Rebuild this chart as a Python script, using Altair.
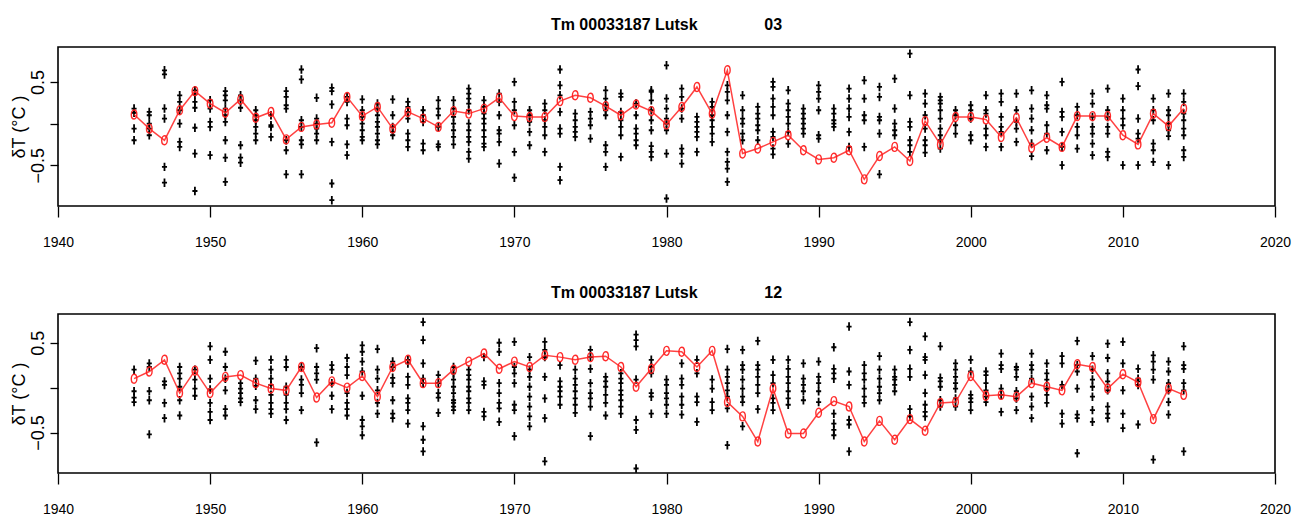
import altair as alt
import pandas as pd

years = list(range(1945, 2015))

mean_03 = [0.11, -0.06, -0.20, 0.16, 0.39, 0.24, 0.13, 0.29, 0.07, 0.14,
           -0.19, -0.04, -0.01, 0.01, 0.32, 0.09, 0.20, -0.06, 0.14, 0.06,
           -0.04, 0.15, 0.12, 0.18, 0.31, 0.09, 0.08, 0.08, 0.27, 0.34,
           0.31, 0.21, 0.10, 0.23, 0.15, -0.01, 0.20, 0.44, 0.12, 0.64,
           -0.36, -0.30, -0.22, -0.14, -0.32, -0.43, -0.41, -0.32, -0.67, -0.39,
           -0.28, -0.45, 0.03, -0.25, 0.08, 0.08, 0.05, -0.16, 0.07, -0.29,
           -0.17, -0.28, 0.09, 0.09, 0.09, -0.14, -0.25, 0.12, -0.03, 0.18]

mean_12 = [0.10, 0.18, 0.31, -0.06, 0.19, -0.06, 0.12, 0.14, 0.05, -0.01,
           -0.03, 0.23, -0.11, 0.07, 0.00, 0.13, -0.10, 0.23, 0.31, 0.05,
           0.05, 0.20, 0.29, 0.38, 0.21, 0.29, 0.23, 0.36, 0.34, 0.31,
           0.34, 0.35, 0.23, 0.01, 0.21, 0.41, 0.40, 0.23, 0.41, -0.16,
           -0.32, -0.60, -0.01, -0.51, -0.51, -0.28, -0.15, -0.21, -0.60, -0.37,
           -0.58, -0.35, -0.48, -0.17, -0.16, 0.13, -0.09, -0.08, -0.10, 0.05,
           0.01, -0.03, 0.26, 0.23, -0.01, 0.15, 0.06, -0.35, -0.01, -0.08]

cross_03 = [
    [0.18, 0.13, -0.06, -0.20],
    [0.14, 0.10, 0.0, -0.06, -0.14],
    [0.64, 0.59, 0.18, 0.06, -0.52, -0.71],
    [0.34, 0.26, 0.16, 0.0, -0.22, -0.28],
    [0.40, 0.35, 0.26, 0.19, -0.05, -0.36, -0.81],
    [0.28, 0.18, 0.02, -0.04, -0.38],
    [0.39, 0.34, 0.28, 0.18, 0.10, 0.02, -0.20, -0.41, -0.70],
    [0.34, 0.28, 0.19, -0.26, -0.41, -0.47],
    [0.16, 0.10, 0.04, -0.04, -0.12, -0.20],
    [0.10, -0.02, -0.04, -0.16],
    [0.39, 0.32, 0.22, 0.18, -0.20, -0.32, -0.61],
    [0.65, 0.53, 0.04, -0.04, -0.20, -0.25, -0.61],
    [0.31, 0.06, 0.0, -0.06, -0.12, -0.20],
    [0.43, 0.39, 0.23, -0.22, -0.72, -0.92],
    [0.32, 0.26, 0.06, -0.02, -0.25, -0.38],
    [0.29, 0.16, 0.08, 0.0, -0.08, -0.16, -0.20],
    [0.24, 0.18, 0.10, 0.02, -0.04, -0.12, -0.20, -0.25],
    [0.29, 0.10, -0.04, -0.10, -0.14],
    [0.26, 0.20, 0.14, 0.06, -0.12, -0.20, -0.28],
    [0.16, 0.10, 0.02, -0.24, -0.32],
    [0.28, 0.18, 0.10, -0.04, -0.25, -0.28],
    [0.28, 0.18, 0.08, 0.0, -0.08, -0.16, -0.25],
    [0.42, 0.36, 0.30, 0.24, 0.16, 0.0, -0.08, -0.16, -0.22, -0.34, -0.42],
    [0.28, 0.20, 0.12, 0.06, 0.0, -0.08, -0.16, -0.24, -0.28],
    [0.36, 0.26, 0.10, -0.08, -0.12, -0.22, -0.48],
    [0.50, 0.26, 0.16, -0.02, -0.34, -0.65],
    [0.16, 0.10, 0.02, -0.10, -0.26],
    [0.24, 0.16, 0.04, -0.04, -0.14, -0.34],
    [0.65, 0.46, 0.34, 0.14, -0.06, -0.12, -0.52, -0.68],
    [0.12, 0.04, -0.04, -0.10, -0.16],
    [0.14, 0.06, -0.02, -0.18],
    [0.40, 0.30, 0.22, 0.16, 0.10, -0.26, -0.34, -0.52],
    [0.36, 0.32, 0.14, 0.04, -0.04, -0.14, -0.40],
    [0.24, 0.10, -0.06, -0.12, -0.20, -0.26],
    [0.40, 0.38, 0.28, 0.16, 0.04, -0.08, -0.27, -0.34, -0.40],
    [0.70, 0.30, 0.18, 0.06, 0.0, -0.08, -0.36, -0.90],
    [0.42, 0.32, 0.18, 0.06, -0.30, -0.36, -0.48],
    [0.08, 0.02, -0.04, -0.10, -0.16, -0.34],
    [0.26, 0.20, 0.10, 0.04, -0.04, -0.12, -0.22],
    [0.46, 0.38, 0.28, 0.10, -0.10, -0.34, -0.46, -0.54, -0.70],
    [0.34, 0.16, 0.06, 0.0, -0.12, -0.20],
    [0.20, 0.12, 0.06, -0.02, -0.08, -0.20],
    [0.50, 0.44, 0.30, 0.20, 0.10, -0.10, -0.16, -0.30, -0.37],
    [0.40, 0.24, 0.16, 0.08, 0.0, -0.10, -0.24],
    [0.18, 0.12, 0.06, 0.0, -0.06, -0.12],
    [0.46, 0.38, 0.30, 0.16, -0.14, -0.18],
    [0.18, 0.12, 0.04, 0.0, -0.04],
    [0.42, 0.30, 0.18, 0.08, -0.10, -0.28],
    [0.52, 0.30, 0.10, 0.04, -0.28],
    [0.44, 0.32, 0.08, 0.04, -0.12, -0.61],
    [0.54, 0.18, 0.0, -0.08, -0.14],
    [0.84, 0.34, 0.02, -0.04, -0.20, -0.26, -0.34],
    [0.36, 0.24, 0.10, -0.06, -0.20, -0.26, -0.35],
    [0.32, 0.28, 0.24, 0.16, 0.06, -0.06, -0.14, -0.20, -0.30],
    [0.16, 0.10, -0.02, -0.12],
    [0.22, 0.16, 0.06, -0.14, -0.20],
    [0.34, 0.16, 0.12, -0.06, -0.14, -0.28],
    [0.36, 0.26, 0.08, -0.04, -0.10, -0.28],
    [0.36, 0.16, 0.02, -0.06, -0.22],
    [0.40, 0.18, 0.06, -0.08, -0.24, -0.39],
    [0.34, 0.22, 0.18, -0.02, -0.12, -0.32],
    [0.50, 0.14, 0.08, -0.10, -0.28, -0.50],
    [0.20, 0.10, -0.04, -0.14, -0.30],
    [0.36, 0.24, 0.08, -0.04, -0.12, -0.24, -0.38],
    [0.42, 0.16, 0.08, -0.04, -0.12, -0.34, -0.40],
    [0.30, 0.16, 0.06, -0.02, -0.50],
    [0.65, 0.45, 0.06, -0.12, -0.18, -0.50],
    [0.30, 0.16, 0.04, -0.24, -0.32, -0.46],
    [0.36, 0.16, 0.10, 0.0, -0.08, -0.15, -0.50],
    [0.36, 0.26, 0.12, 0.04, -0.06, -0.14, -0.32, -0.40],
]

cross_12 = [
    [0.20, -0.04, -0.11, -0.16],
    [0.27, 0.23, -0.04, -0.14, -0.52],
    [0.07, 0.03, -0.17, -0.34],
    [0.23, 0.16, 0.10, 0.01, -0.14, -0.31],
    [0.20, 0.09, -0.01, -0.09],
    [0.46, 0.31, 0.10, -0.02, -0.17, -0.27, -0.36],
    [0.40, 0.23, 0.10, -0.03, -0.24, -0.31],
    [0.05, -0.01, -0.06, -0.12, -0.16],
    [0.30, 0.10, 0.02, -0.14, -0.24],
    [0.31, 0.20, 0.10, 0.03, -0.08, -0.17, -0.24, -0.29],
    [0.31, 0.23, 0.01, -0.08, -0.17, -0.24, -0.36],
    [0.23, 0.09, 0.03, -0.06, -0.25],
    [0.44, 0.23, 0.16, 0.09, -0.61],
    [0.25, 0.20, 0.05, -0.09, -0.24],
    [0.33, 0.23, 0.14, -0.06, -0.17, -0.24, -0.31],
    [0.47, 0.40, 0.29, 0.18, -0.09, -0.36, -0.43, -0.53],
    [0.43, 0.20, 0.10, -0.03, -0.17, -0.29],
    [0.29, 0.23, 0.11, 0.05, -0.14, -0.29, -0.34],
    [0.31, 0.27, 0.12, 0.03, -0.12, -0.17, -0.25, -0.40],
    [0.73, 0.53, 0.27, 0.10, 0.05, -0.43, -0.58, -0.71],
    [0.14, 0.05, -0.06, -0.11, -0.28],
    [0.23, 0.16, 0.09, 0.01, -0.06, -0.14, -0.17, -0.21, -0.25],
    [0.20, 0.14, 0.09, 0.01, -0.04, -0.12, -0.17, -0.25],
    [0.34, 0.07, 0.03, -0.27, -0.32],
    [0.50, 0.40, 0.05, -0.06, -0.17, -0.23, -0.38],
    [0.51, 0.23, 0.16, 0.05, -0.19, -0.25, -0.54],
    [0.34, 0.20, 0.12, 0.01, -0.10, -0.21, -0.32, -0.43],
    [0.51, 0.42, 0.34, 0.12, -0.12, -0.34, -0.82],
    [0.25, 0.07, 0.01, -0.04, -0.10, -0.19],
    [0.20, 0.10, 0.03, -0.04, -0.12, -0.19, -0.28],
    [0.42, 0.34, 0.21, 0.05, -0.06, -0.12, -0.21, -0.54],
    [0.12, 0.07, 0.01, -0.08, -0.17, -0.31],
    [0.16, 0.10, 0.05, -0.03, -0.08, -0.14, -0.21, -0.29],
    [0.59, 0.53, 0.46, 0.09, -0.36, -0.47, -0.90],
    [0.31, 0.23, 0.16, -0.06, -0.10, -0.29],
    [0.09, 0.03, -0.06, -0.12, -0.19, -0.29],
    [0.27, 0.10, 0.03, -0.10, -0.19, -0.30],
    [0.31, 0.16, -0.10, -0.16, -0.38],
    [0.09, -0.01, -0.16, -0.25],
    [0.43, 0.20, 0.12, 0.05, -0.03, -0.10, -0.23, -0.64],
    [0.42, 0.25, 0.20, 0.09, -0.01, -0.10, -0.16, -0.43],
    [0.52, 0.25, 0.20, 0.12, 0.03, -0.06, -0.24],
    [0.31, 0.14, 0.05, -0.12, -0.17, -0.25],
    [0.31, 0.21, 0.12, 0.05, -0.04, -0.12, -0.19],
    [0.27, 0.10, 0.03, -0.04, -0.14],
    [0.29, 0.12, 0.05, -0.04, -0.16],
    [0.45, 0.21, 0.16, 0.10, -0.29, -0.40, -0.47, -0.53],
    [0.68, 0.18, 0.03, -0.36, -0.41, -0.71],
    [0.25, 0.16, 0.09, -0.01, -0.10, -0.17],
    [0.35, 0.20, 0.10, 0.01, -0.06, -0.14],
    [0.20, 0.12, 0.09, 0.03, -0.04],
    [0.73, 0.42, 0.21, 0.12, -0.24, -0.32],
    [0.57, 0.34, 0.31, 0.14, -0.06, -0.19, -0.27, -0.32],
    [0.46, 0.11, 0.07, 0.01, -0.14, -0.21],
    [0.27, 0.20, 0.12, 0.05, -0.01, -0.12, -0.21],
    [0.31, 0.18, -0.08, -0.12, -0.16, -0.25],
    [0.18, 0.14, 0.05, -0.03, -0.10, -0.16],
    [0.38, 0.25, 0.21, -0.01, -0.08, -0.27],
    [0.23, 0.20, 0.12, -0.04, -0.12, -0.25],
    [0.38, 0.25, 0.20, 0.10, -0.10, -0.21, -0.34],
    [0.27, 0.16, 0.09, -0.01, -0.08, -0.17],
    [0.35, 0.27, 0.03, -0.29, -0.40],
    [0.52, 0.25, 0.18, -0.01, -0.30, -0.34, -0.73],
    [0.35, 0.20, 0.09, 0.01, -0.10, -0.25, -0.38],
    [0.49, 0.33, 0.16, 0.07, -0.03, -0.21, -0.29, -0.34],
    [0.51, 0.27, -0.03, -0.29, -0.45],
    [0.21, 0.10, 0.07, 0.03, -0.41],
    [0.36, 0.29, 0.20, 0.09, -0.80],
    [0.29, 0.18, 0.05, -0.03, -0.16, -0.30],
    [0.46, 0.25, 0.21, 0.05, -0.03, -0.71],
]

x_ticks = [1940, 1950, 1960, 1970, 1980, 1990, 2000, 2010, 2020]
y_ticks = [-0.5, 0.0, 0.5]
NB = "\u00a0"
title_03 = "Tm 00033187 Lutsk" + NB * 15 + "03"
title_12 = "Tm 00033187 Lutsk" + NB * 15 + "12"

RED = "#ff2020"
FONT = "'Liberation Sans', Arial, Helvetica, sans-serif"
CROSS = "M-0.6,0L0.6,0M0,-1L0,1"
ELLIPSE = "M0,-1A0.62,1 0 1,1 0,1A0.62,1 0 1,1 0,-1Z"


def panel(title, means, crosses, ydom):
    df_m = pd.DataFrame({"year": years, "v": means})
    rows = [(yr, v) for yr, vs in zip(years, crosses) for v in vs]
    df_c = pd.DataFrame(rows, columns=["year", "v"])
    x = alt.X("year:Q",
              scale=alt.Scale(domain=[1940, 2020], nice=False, zero=False),
              axis=alt.Axis(values=x_ticks, format="d", title=None))
    y = alt.Y("v:Q",
              scale=alt.Scale(domain=ydom, nice=False, zero=False),
              axis=alt.Axis(values=y_ticks, title="δT (°C )",
                            labelExpr="datum.value == 0 ? '' : replace(format(datum.value, '.1f'), '-', '\u2212')"))
    crs = alt.Chart(df_c).mark_point(shape=CROSS, size=72, filled=False,
                                     stroke="black", strokeWidth=1.8,
                                     opacity=1).encode(x=x, y=y)
    line = alt.Chart(df_m).mark_line(color=RED, strokeWidth=1.5,
                                     opacity=0.85).encode(x=x, y=y)
    circ = alt.Chart(df_m).mark_point(shape=ELLIPSE, size=81, filled=False,
                                      stroke=RED, strokeWidth=1.4,
                                      opacity=0.95).encode(x=x, y=y)
    return alt.layer(crs, line, circ).properties(
        width=1217, height=159,
        title=alt.TitleParams(title, anchor="middle", fontSize=16,
                              font=FONT, fontWeight="bold", color="black",
                              offset=13))


top = panel(title_03, mean_03, cross_03, [-0.99, 0.92])
bottom = panel(title_12, mean_12, cross_12, [-0.95, 0.82])

chart = alt.vconcat(top, bottom, spacing=34).properties(
    padding={"left": 9, "top": 16, "right": 0, "bottom": 0},
    background="white",
).configure_view(
    stroke="black", strokeWidth=1.6
).configure_axisX(
    domain=False, grid=False, tickSize=11, tickColor="black", tickWidth=1.3,
    labelFont=FONT, labelFontSize=14, labelColor="black", labelPadding=18,
    labelFlush=False, labelOverlap=False,
).configure_axisY(
    domain=False, grid=False, tickSize=8, tickColor="black", tickWidth=1.3,
    labelFont=FONT, labelFontSize=18, labelColor="black", labelPadding=3,
    labelAngle=270, labelAlign="center", labelBaseline="bottom",
    labelOverlap=False, labelFlush=False,
    titleFont=FONT, titleFontSize=18, titleFontWeight="normal",
    titleColor="black", titlePadding=1,
)

chart.save("out.html", embed_options={"renderer": "svg", "actions": False})
